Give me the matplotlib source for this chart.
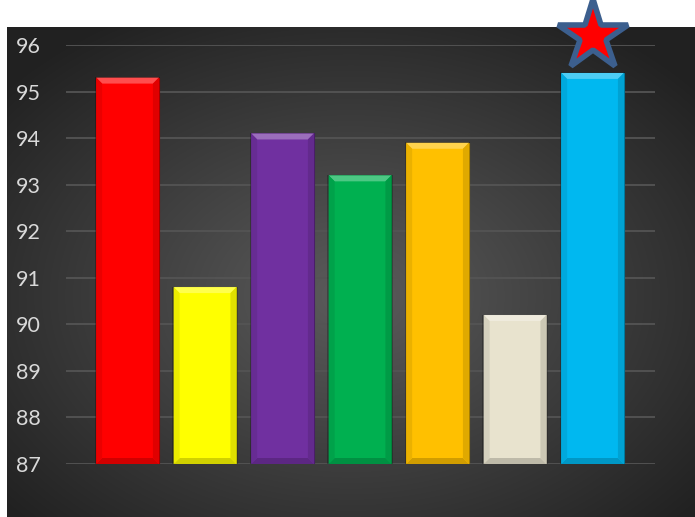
import numpy as np
import matplotlib
matplotlib.use("Agg")
import matplotlib.pyplot as plt
from matplotlib.patches import Polygon, Rectangle
from matplotlib.colors import to_rgb

# data
categories = ["A", "B", "C", "D", "E", "F", "G"]
values = [95.3, 90.8, 94.1, 93.2, 93.9, 90.2, 95.4]
bar_colors = ["#FF0000", "#FFFF00", "#7030A0", "#00B050", "#FFC000", "#E8E3CE", "#00B8F0"]
yticks = [87, 88, 89, 90, 91, 92, 93, 94, 95, 96]
ymin, ymax = 87, 96


def mix(c, other, t):
    c = np.array(to_rgb(c))
    o = np.array(to_rgb(other))
    return tuple(c * (1 - t) + o * t)


fig = plt.figure(figsize=(6.95, 5.17), dpi=100)
fig.patch.set_facecolor("white")

# dark radial-gradient panel
bg = fig.add_axes([7 / 695, 0, 1 - 7 / 695, (517 - 27) / 517])
bg.set_axis_off()
yy, xx = np.mgrid[0:1:300j, 0:1:400j]
r = np.sqrt(((xx - 0.5) / 0.75) ** 2 + ((yy - 0.55) / 0.75) ** 2)
shade = np.clip(0.36 - 0.26 * r, 0.13, 0.36)
bg.imshow(np.dstack([shade] * 3), aspect="auto", extent=(0, 1, 0, 1), interpolation="bilinear")
bg.set_xlim(0, 1)
bg.set_ylim(0, 1)

ax = fig.add_axes([66 / 695, 1 - 464 / 517, (655 - 66) / 695, (464 - 45) / 517])
ax.patch.set_alpha(0)
x = np.arange(len(categories))
width = 0.81

ax.set_ylim(ymin, ymax)
ax.set_xlim(-0.794, len(categories) - 1 + 0.806)
ax.set_yticks(yticks)
ax.yaxis.grid(True, color="#545454", linewidth=1.3)
ax.set_axisbelow(True)
ax.set_xticks([])
for s in ax.spines.values():
    s.set_visible(False)
ax.tick_params(axis="y", length=0, pad=18, labelcolor="#D9D9D9", labelsize=15.5)
for lab in ax.get_yticklabels():
    lab.set_fontfamily("Lato")

bx = 6 / 77.5
by = 6 / 46.56
for xi, v, c in zip(x, values, bar_colors):
    x0, x1 = xi - width / 2, xi + width / 2
    # soft shadow
    ax.add_patch(Rectangle((x0 - 0.02, ymin - 0.02), width + 0.04, v - ymin + 0.03,
                           facecolor="black", alpha=0.25, edgecolor="none", zorder=2))
    ax.bar(xi, v - ymin, width=width, bottom=ymin, color=c, edgecolor=mix(c, "black", 0.35),
           linewidth=0.8, zorder=3)
    # bevel faces
    top = Polygon([(x0, v), (x1, v), (x1 - bx, v - by), (x0 + bx, v - by)],
                  facecolor=mix(c, "white", 0.3), edgecolor="none", zorder=4)
    bot = Polygon([(x0, ymin), (x1, ymin), (x1 - bx, ymin + by), (x0 + bx, ymin + by)],
                  facecolor=mix(c, "black", 0.18), edgecolor="none", zorder=4)
    left = Polygon([(x0, ymin), (x0 + bx, ymin + by), (x0 + bx, v - by), (x0, v)],
                   facecolor=mix(c, "black", 0.08), edgecolor="none", zorder=4)
    right = Polygon([(x1, ymin), (x1 - bx, ymin + by), (x1 - bx, v - by), (x1, v)],
                    facecolor=mix(c, "black", 0.12), edgecolor="none", zorder=4)
    for p in (top, bot, left, right):
        ax.add_patch(p)

# star above the highest bar
best = int(np.argmax(values))
ax.plot(x[best], values[best] + 0.79, marker="*", markersize=53, markerfacecolor="#FF0000",
        markeredgecolor="#3C5F8E", markeredgewidth=4, clip_on=False, zorder=6)

fig.savefig("out.png", dpi=100)
